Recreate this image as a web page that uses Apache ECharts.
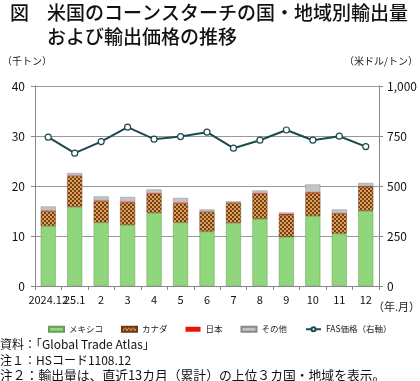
<!DOCTYPE html>
<html><head><meta charset="utf-8">
<script src="https://cdn.jsdelivr.net/npm/echarts@6/dist/echarts.min.js"></script>
<style>html,body{margin:0;padding:0;background:#fff}#c{width:420px;height:381px}</style>
</head><body><div id="c"></div>
<script>
const categories = ['2024.12','25.1','2','3','4','5','6','7','8','9','10','11','12'];
const mexico = [12.0,15.8,12.7,12.2,14.6,12.7,10.9,12.6,13.4,9.8,14.0,10.5,15.0];
const canada = [3.0,6.2,4.3,4.5,3.9,3.8,3.9,4.0,5.1,4.4,4.7,4.0,4.9];
const japan  = [0.1,0.1,0.1,0.2,0.1,0.2,0.1,0.1,0.1,0.2,0.1,0.1,0.1];
const others = [0.8,0.5,0.8,0.9,0.7,0.9,0.4,0.2,0.5,0.3,1.5,0.7,0.6];
const fasPrice = [744,664,722,794,734,747,769,689,729,780,729,749,697];

const FONT = '"Noto Sans CJK JP", "Noto Sans", sans-serif';

function checker(){
  const c = document.createElement('canvas'); c.width = 4; c.height = 4;
  const g = c.getContext('2d');
  g.fillStyle = '#d9a25c'; g.fillRect(0,0,4,4);
  g.fillStyle = '#7b3e12'; g.fillRect(0,0,2,2); g.fillRect(2,2,2,2);
  return c;
}
const canadaFill = {image: checker(), repeat: 'repeat'};

const chart = echarts.init(document.getElementById('c'), null, {renderer:'canvas'});
const barBase = {type:'bar', stack:'t', barWidth:15, yAxisIndex:0};
chart.setOption({
  animation:false,
  textStyle:{fontFamily:FONT},
  graphic:[
    {type:'text', left:10, top:3, style:{text:'図', font:'500 19px '+FONT, fill:'#111'}},
    {type:'text', left:47, top:3, style:{text:'米国のコーンスターチの国・地域別輸出量', font:'500 19px '+FONT, fill:'#111'}},
    {type:'text', left:47, top:27, style:{text:'および輸出価格の推移', font:'500 19px '+FONT, fill:'#111'}},
    {type:'text', left:2, top:56, style:{text:'（千トン）', font:'10px '+FONT, fill:'#222'}},
    {type:'text', right:2, top:56, style:{text:'（米ドル/トン）', font:'10px '+FONT, fill:'#222'}},
    {type:'text', left:373, top:301, style:{text:'（年.月）', font:'11px '+FONT, fill:'#222'}},
    {type:'text', left:0, top:338, style:{text:'資料：「Global Trade Atlas」', font:'12px '+FONT, fill:'#111'}},
    {type:'text', left:0, top:354, style:{text:'注１：HSコード1108.12', font:'12px '+FONT, fill:'#111'}},
    {type:'text', left:0, top:369, style:{text:'注２：輸出量は、直近13カ月（累計）の上位３カ国・地域を表示。', font:'12.8px '+FONT, fill:'#111'}}
  ],
  grid:{left:35, right:41, top:86, bottom:95},
  legend:{
    top:320, left:43, itemWidth:15, itemHeight:5, itemGap:18,
    textStyle:{fontSize:8.5, fontFamily:FONT, color:'#222'},
    data:[
      {name:'メキシコ', icon:'rect'},{name:'カナダ', icon:'rect'},{name:'日本', icon:'rect'},{name:'その他', icon:'rect'},
      {name:'FAS価格（右軸）'}
    ]
  },
  xAxis:{
    type:'category', data:categories,
    axisLine:{lineStyle:{color:'#888'}},
    axisTick:{show:true, length:4, lineStyle:{color:'#888'}},
    axisLabel:{fontSize:11, color:'#111', margin:8, interval:0}
  },
  yAxis:[
    {type:'value', min:0, max:40, interval:10,
     axisLine:{show:true, lineStyle:{color:'#888'}}, axisTick:{show:true, length:4, lineStyle:{color:'#888'}},
     axisLabel:{fontSize:12, color:'#111', margin:10},
     splitLine:{lineStyle:{color:'#999', width:1}}},
    {type:'value', min:0, max:1000, interval:250,
     axisLine:{show:true, lineStyle:{color:'#888'}}, axisTick:{show:true, length:4, lineStyle:{color:'#888'}},
     axisLabel:{fontSize:12, color:'#111', margin:8, formatter:v=>v.toLocaleString('en-US')},
     splitLine:{show:false}}
  ],
  series:[
    Object.assign({}, barBase, {name:'メキシコ', data:mexico, itemStyle:{color:'#8fd67c', borderColor:'#6a9a5a', borderWidth:0.5}}),
    Object.assign({}, barBase, {name:'カナダ', data:canada, itemStyle:{color:canadaFill, borderColor:'#6b3a15', borderWidth:0.5}}),
    Object.assign({}, barBase, {name:'日本', data:japan, itemStyle:{color:'#e8140c'}}),
    Object.assign({}, barBase, {name:'その他', data:others, itemStyle:{color:'#c4c4c4', borderColor:'#888', borderWidth:0.5}}),
    {name:'FAS価格（右軸）', type:'line', yAxisIndex:1, data:fasPrice,
     symbol:'circle', symbolSize:6, lineStyle:{color:'#1d4a4c', width:2},
     itemStyle:{color:'#fff', borderColor:'#1d4a4c', borderWidth:1.2}, z:5}
  ]
});
</script></body></html>
